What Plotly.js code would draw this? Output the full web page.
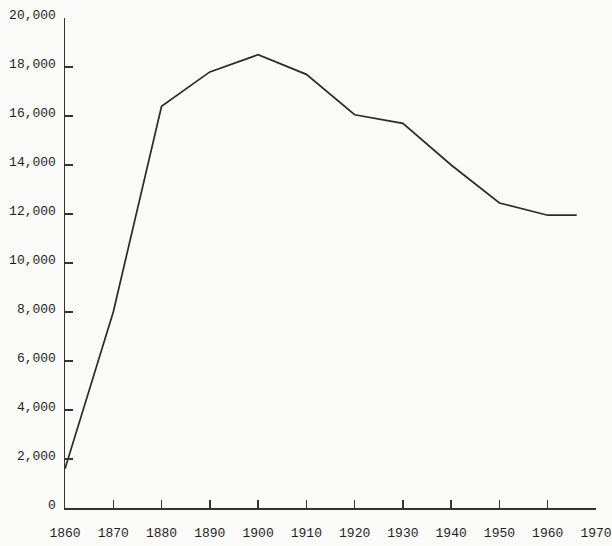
<!DOCTYPE html>
<html>
<head>
<meta charset="utf-8">
<script src="https://cdn.plot.ly/plotly-3.0.1.min.js"></script>
<style>
  html, body { margin: 0; padding: 0; background: #fafaf8; }
  #chart { width: 612px; height: 546px; }
</style>
</head>
<body>
<div id="chart"></div>
<script>
// Data
const years = [1860, 1870, 1880, 1890, 1900, 1910, 1920, 1930, 1940, 1950, 1960, 1966];
const values = [1600, 8000, 16400, 17800, 18500, 17700, 16050, 15700, 14000, 12450, 11950, 11950];
const xTicks = [1860, 1870, 1880, 1890, 1900, 1910, 1920, 1930, 1940, 1950, 1960, 1970];
const yTicks = [0, 2000, 4000, 6000, 8000, 10000, 12000, 14000, 16000, 18000, 20000];

const trace = {
  x: years,
  y: values,
  type: 'scatter',
  mode: 'lines',
  line: { color: '#2a2a2a', width: 1.7 },
  hoverinfo: 'x+y'
};

const font = { family: '"Liberation Mono", "Courier New", monospace', size: 13, color: '#1f1f1f' };

const layout = {
  width: 612,
  height: 546,
  margin: { l: 65, r: 16, t: 18, b: 38 },
  paper_bgcolor: '#fafaf8',
  plot_bgcolor: '#fafaf8',
  showlegend: false,
  font: font,
  xaxis: {
    range: [1860, 1970],
    tickvals: xTicks,
    ticktext: xTicks.map(String),
    ticks: 'inside',
    ticklen: 8,
    tickwidth: 1.4,
    tickcolor: '#333333',
    showline: true,
    linecolor: '#333333',
    linewidth: 1.5,
    showgrid: false,
    zeroline: false,
    ticklabelstandoff: 12,
    tickfont: font,
    fixedrange: true
  },
  yaxis: {
    range: [0, 20000],
    tickvals: yTicks,
    tickformat: ',d',
    ticks: 'inside',
    ticklen: 8,
    tickwidth: 1.4,
    tickcolor: '#333333',
    showline: true,
    linecolor: '#333333',
    linewidth: 1.5,
    showgrid: false,
    zeroline: false,
    ticklabelstandoff: 5,
    ticklabelshift: -4,
    tickfont: font,
    fixedrange: true
  }
};

Plotly.newPlot('chart', [trace], layout, { displayModeBar: false, staticPlot: true });
</script>
</body>
</html>
